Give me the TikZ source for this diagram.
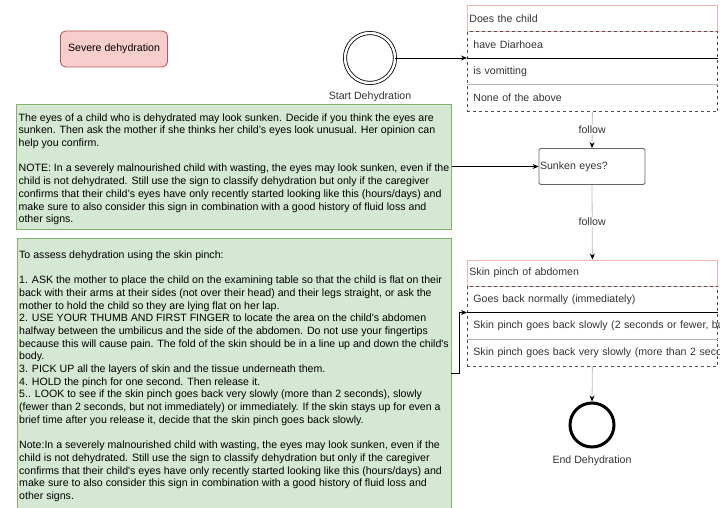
\documentclass[tikz,border=0pt]{standalone}
\usepackage{fontspec}
\setmainfont{Liberation Sans}
\usetikzlibrary{fit,arrows.meta}
\definecolor{notefill}{HTML}{D5E8D4}
\definecolor{noteline}{HTML}{82B366}
\definecolor{sevfill}{HTML}{F8CECC}
\definecolor{sevline}{HTML}{B85450}
\definecolor{hdrline}{HTML}{F2B3B1}
\definecolor{lstline}{HTML}{4D4D4D}
\definecolor{txtgray}{HTML}{333333}

\begin{document}
\begin{tikzpicture}[x=1pt,y=-1pt,line width=0.8pt,>={Stealth[length=6pt,width=5pt]},
  every node/.style={font=\fontsize{10.6}{12.7}\selectfont},
  sevbox/.style={draw=sevline,fill=sevfill,rounded corners=5pt,minimum width=107pt,minimum height=36pt,inner sep=0pt},
  notebox/.style={draw=noteline,fill=notefill,align=left,inner xsep=2pt,minimum width=434pt},
  hnode/.style={draw=hdrline,anchor=north west,minimum height=26.5pt,text width=246pt,inner xsep=2pt,inner ysep=0pt,align=left,text=txtgray},
  rnode/.style={anchor=north west,minimum height=26.5pt,text width=238pt,inner xsep=6pt,inner ysep=0pt,align=left,text=txtgray},
  lbox/.style={draw=lstline,dashed,inner sep=0pt},
  snode/.style={draw,circle,double,line width=0.8pt,double distance=2.4pt,minimum size=50pt},
  enode/.style={draw,circle,line width=3pt,minimum size=44pt},
  qnode/.style={draw=black!60,rounded corners=1.5pt,minimum height=36pt,text width=104pt,inner xsep=1pt,align=left,text=txtgray},
  flow/.style={draw=black!25,-{Stealth[length=6pt,width=5pt,black]}},
  flowlbl/.style={pos=0.5,fill=white,inner sep=1pt,text=txtgray}]
    \useasboundingbox (0,0) rectangle (720,508);
    \clip (0,0) rectangle (720,508);

    \node[sevbox] (severe) at (114,49) {Severe dehydration};
    \node[snode] (start) at (370,58) {};
    \node[text=txtgray] (startLbl) at (370,97) {Start Dehydration};

    \node[hnode] (doesHdr) at (467,5) {Does the child};
    \node[rnode] (diarrhoea) at (467,31.5) {have Diarhoea};
    \node[rnode] (vomit) at (467,58) {is vomitting};
    \node[rnode] (noneAbove) at (467,84.5) {None of the above};
    \node[lbox,fit=(diarrhoea)(noneAbove)] (doesList) {};
    \draw (vomit.north west) -- (vomit.north east);
    \draw[black!30] (noneAbove.north west) -- (noneAbove.north east);

    \node[qnode] (sunken) at (592,166.5) {Sunken eyes?};

    \node[hnode] (skinHdr) at (467,259.5) {Skin pinch of abdomen};
    \node[rnode] (normal) at (467,286) {Goes back normally (immediately)};
    \node[rnode] (slow) at (467,312.5) {\mbox{Skin pinch goes back slowly (2 seconds or fewer, but not immediately)}};
    \node[rnode] (verySlow) at (467,339) {\mbox{Skin pinch goes back very slowly (more than 2 seconds)}};
    \node[lbox,fit=(normal)(verySlow)] (skinList) {};
    \draw (slow.north west) -- (slow.north east);
    \draw[black!30] (verySlow.north west) -- (verySlow.north east);

    \node[enode] (endCirc) at (592,425) {};
    \node[text=txtgray] (endLbl) at (592,461) {End Dehydration};

    \node[notebox,minimum height=125pt] (eyesNote) at (234,166.5) {\rule{0pt}{13pt}The eyes of a child who is dehydrated may look sunken. Decide if you think the eyes are\\
sunken. Then ask the mother if she thinks her child’s eyes look unusual. Her opinion can\\
help you confirm.\\[12.7pt]
NOTE: In a severely malnourished child with wasting, the eyes may look sunken, even if the\\
child is not dehydrated. Still use the sign to classify dehydration but only if the caregiver\\
confirms that their child’s eyes have only recently started looking like this (hours/days) and\\
make sure to also consider this sign in combination with a good history of fluid loss and\\
other signs.};

    \node[notebox,minimum height=271pt] (pinchNote) at (234,373.5) {\rule{0pt}{13pt}To assess dehydration using the skin pinch:\\[12.7pt]
1. ASK the mother to place the child on the examining table so that the child is flat on their\\
back with their arms at their sides (not over their head) and their legs straight, or ask the\\
mother to hold the child so they are lying flat on her lap.\\
2. USE YOUR THUMB AND FIRST FINGER to locate the area on the child\textquotesingle s abdomen\\
halfway between the umbilicus and the side of the abdomen. Do not use your fingertips\\
because this will cause pain. The fold of the skin should be in a line up and down the child\textquotesingle s\\
body.\\
3. PICK UP all the layers of skin and the tissue underneath them.\\
4. HOLD the pinch for one second. Then release it.\\
5.. LOOK to see if the skin pinch goes back very slowly (more than 2 seconds), slowly\\
(fewer than 2 seconds, but not immediately) or immediately. If the skin stays up for even a\\
brief time after you release it, decide that the skin pinch goes back slowly.\\[12.7pt]
Note:In a severely malnourished child with wasting, the eyes may look sunken, even if the\\
child is not dehydrated. Still use the sign to classify dehydration but only if the caregiver\\
confirms that their child\textquotesingle s eyes have only recently started looking like this (hours/days) and\\
make sure to also consider this sign in combination with a good history of fluid loss and\\
other signs.};

    \draw[->] (start) -- (vomit.north west);
    \draw[->] (eyesNote.east) -- (sunken.west);
    \draw[->] (pinchNote.east) -- ++(8,0) |- (slow.north west);

    \draw[flow] (doesList.south) -- node[flowlbl] {follow} (sunken.north);
    \draw[flow] (sunken.south) -- node[flowlbl] {follow} (skinHdr.north);
    \draw[flow] (skinList.south) -- (endCirc.north);
\end{tikzpicture}
\end{document}
